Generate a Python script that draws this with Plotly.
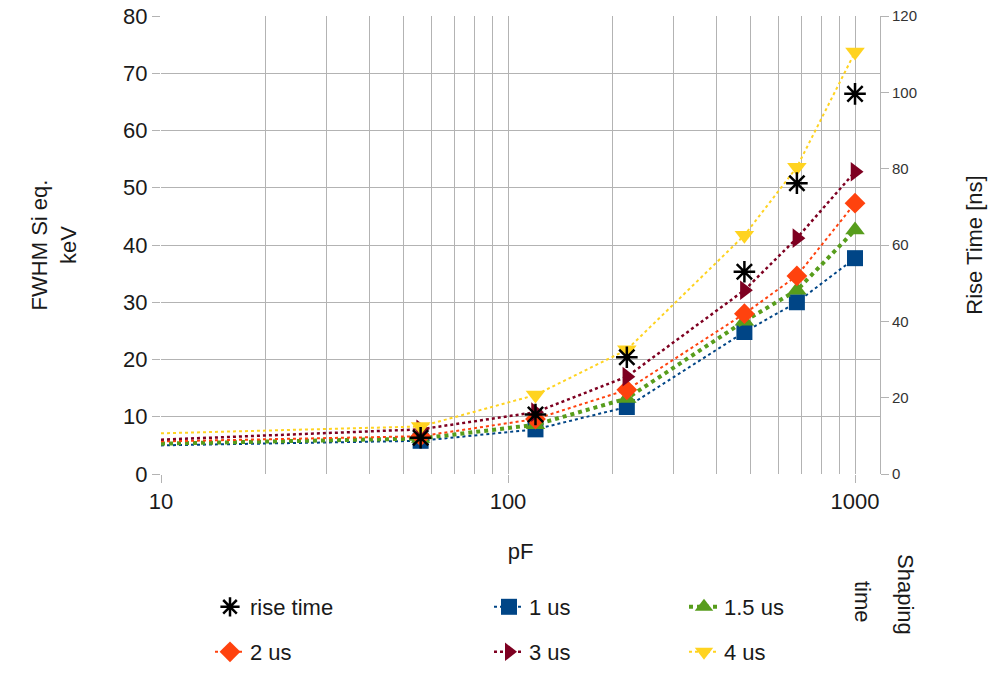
import plotly.graph_objects as go

# ---- data ----
pf = [10, 56, 120, 220, 480, 680, 1000]          # capacitance (pF); first point only starts the line
fwhm_1us = [5.0, 5.8, 7.8, 11.7, 24.8, 30.0, 37.7]
fwhm_15us = [5.3, 6.2, 8.6, 13.2, 26.7, 32.1, 42.6]
fwhm_2us = [5.7, 6.6, 9.6, 14.7, 28.0, 34.6, 47.3]
fwhm_3us = [6.0, 7.8, 10.8, 17.0, 32.1, 41.2, 52.8]
fwhm_4us = [7.1, 8.3, 13.8, 21.7, 41.7, 53.6, 73.7]
rise_pf = [56, 120, 220, 480, 680, 1000]
rise_ns = [9.5, 15.6, 30.6, 53.0, 76.2, 99.6]

y_ticks = [0, 10, 20, 30, 40, 50, 60, 70, 80]
y2_ticks = [0, 20, 40, 60, 80, 100, 120]
x_ticks = [10, 100, 1000]

FONT = "Liberation Sans, Arial, sans-serif"
GRID = "#b3b3b3"
TXT = "#1a1a1a"

series = [
    ("1 us", fwhm_1us, "#004586", "square", 2, 16, "legend2"),
    ("1.5 us", fwhm_15us, "#579d1c", "triangle-up", 4, 17, "legend3"),
    ("2 us", fwhm_2us, "#ff420e", "diamond", 2, 16, "legend5"),
    ("3 us", fwhm_3us, "#7e0021", "triangle-right", 2.5, 17, "legend6"),
    ("4 us", fwhm_4us, "#ffd320", "triangle-down", 2, 17, "legend7"),
]

fig = go.Figure()

# rise time (right axis)
fig.add_trace(go.Scatter(
    x=rise_pf, y=rise_ns, name="rise time", mode="markers", yaxis="y2",
    marker=dict(symbol="asterisk-open", size=18, color="black",
                line=dict(color="black", width=2.5)),
    legend="legend",
))

for name, vals, col, sym, lw, ms, lg in series:
    # line start segment from the axis edge (no marker)
    fig.add_trace(go.Scatter(
        x=pf[:2], y=vals[:2], mode="lines", showlegend=False, hoverinfo="skip",
        line=dict(color=col, width=lw, dash="dot"),
    ))
    fig.add_trace(go.Scatter(
        x=pf[1:], y=vals[1:], name=name, mode="lines+markers",
        line=dict(color=col, width=lw, dash="dot"),
        marker=dict(symbol=sym, size=ms, color=col),
        legend=lg,
    ))

L, R, T, B = 161, 122, 16, 200
W, H = 1002, 674

leg_common = dict(orientation="h", font=dict(family=FONT, size=22, color=TXT),
                  bgcolor="rgba(0,0,0,0)", xanchor="left", yanchor="middle",
                  xref="container", yref="container")

layout_legends = {}
cols = [210, 489, 684]
rows = [607, 652]
names = ["legend", "legend2", "legend3", "legend5", "legend6", "legend7"]
for i, lname in enumerate(names):
    r, c = divmod(i, 3)
    layout_legends[lname] = dict(x=cols[c] / W, y=1 - rows[r] / H, **leg_common)

fig.update_layout(
    width=W, height=H,
    margin=dict(l=L, r=R, t=T, b=B, autoexpand=False),
    paper_bgcolor="white", plot_bgcolor="white",
    font=dict(family=FONT, color=TXT),
    xaxis=dict(
        type="log", range=[1, 3.072], tickvals=x_ticks, ticktext=[str(v) for v in x_ticks],
        showgrid=True, gridcolor=GRID, gridwidth=1, automargin=False,
        ticks="outside", ticklen=8, tickcolor=GRID,
        tickfont=dict(size=22, color=TXT),
        minor=dict(showgrid=True, gridcolor=GRID, gridwidth=1, dtick="D1", ticks=""),
        zeroline=False, showline=False,
        title=dict(text="pF", font=dict(size=22, color=TXT), standoff=30),
    ),
    yaxis=dict(
        range=[0, 80], tickvals=y_ticks, showgrid=True, gridcolor=GRID, gridwidth=1,
        ticks="outside", ticklen=8, tickcolor=GRID, automargin=False,
        tickfont=dict(size=22, color=TXT), zeroline=False, showline=False,
        title=dict(text="FWHM Si eq.<br>keV", font=dict(size=22, color=TXT), standoff=40),
    ),
    yaxis2=dict(
        range=[0, 120], tickvals=y2_ticks, overlaying="y", side="right",
        showgrid=False, ticks="outside", ticklen=8, tickcolor=GRID, automargin=False,
        showline=True, linecolor=GRID, linewidth=1,
        tickfont=dict(size=15, color="#333333"), zeroline=False,
        title=dict(text="Rise Time [ns]", font=dict(size=22, color=TXT), standoff=50),
    ),
    annotations=[
        dict(text="Shaping", textangle=90, xref="paper", yref="paper",
             x=(906 - L) / (W - L - R), y=(H - B - 594) / (H - T - B),
             xanchor="center", yanchor="middle", showarrow=False,
             font=dict(family=FONT, size=22, color=TXT)),
        dict(text="time", textangle=90, xref="paper", yref="paper",
             x=(863 - L) / (W - L - R), y=(H - B - 602) / (H - T - B),
             xanchor="center", yanchor="middle", showarrow=False,
             font=dict(family=FONT, size=22, color=TXT)),
    ],
    **layout_legends,
)

fig.write_html("out.html", config={"displayModeBar": False},
               post_script="document.body.style.margin='0';")
